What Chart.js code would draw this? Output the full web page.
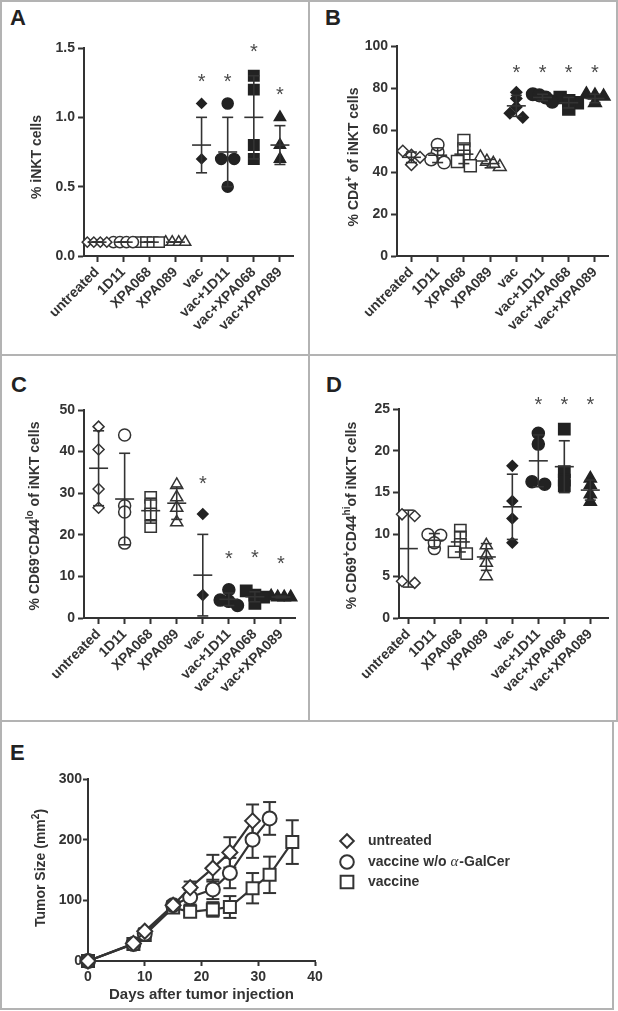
<!DOCTYPE html>
<html><head><meta charset="utf-8">
<script src="https://cdn.jsdelivr.net/npm/chart.js@4"></script>
<style>
html,body{margin:0;padding:0;background:#fff;}
body{width:618px;height:1011px;position:relative;overflow:hidden;font-family:'Liberation Sans',Arial,sans-serif;}
canvas{position:absolute;}
.ln{position:absolute;background:#b3b3b3;}
.lt{position:absolute;font:bold 22px/22px 'Liberation Sans',Arial,sans-serif;color:#222;}
</style></head><body>
<div class="ln" style="left:0;top:0;width:618px;height:2px"></div>
<div class="ln" style="left:0;top:0;width:2px;height:1010px"></div>
<div class="ln" style="left:616px;top:0;width:2px;height:721px"></div>
<div class="ln" style="left:308px;top:0;width:2px;height:721px"></div>
<div class="ln" style="left:0;top:354px;width:618px;height:2px"></div>
<div class="ln" style="left:0;top:720px;width:618px;height:2px"></div>
<div class="ln" style="left:612px;top:720px;width:2px;height:290px"></div>
<div class="ln" style="left:0;top:1008px;width:614px;height:2px"></div>
<div class="lt" style="left:10px;top:7px">A</div>
<div class="lt" style="left:325px;top:7px">B</div>
<div class="lt" style="left:11px;top:374px">C</div>
<div class="lt" style="left:326px;top:374px">D</div>
<div class="lt" style="left:10px;top:742px">E</div>
<canvas id="cA" width="309" height="355" style="left:0;top:0"></canvas>
<canvas id="cB" width="309" height="355" style="left:309px;top:0"></canvas>
<canvas id="cC" width="309" height="366" style="left:0;top:355px"></canvas>
<canvas id="cD" width="309" height="366" style="left:309px;top:355px"></canvas>
<canvas id="cE" width="612" height="287" style="left:0;top:721px"></canvas>
<script>
// ---------- DATA ----------
const categories = ['untreated','1D11','XPA068','XPA089','vac','vac+1D11','vac+XPA068','vac+XPA089'];

// Panel A: % iNKT cells
const iNKT = [[0.1,0.1,0.1,0.1],[0.1,0.1,0.1,0.1],[0.1,0.1,0.1,0.1],[0.1,0.1,0.1,0.1],
              [1.1,0.7],[1.1,0.7,0.7,0.5],[1.3,1.2,0.8,0.7],[1.0,0.8,0.7]];
const iNKTMean = [0.1,0.1,0.1,0.1,0.8,0.75,1.0,0.8];
const iNKTSd   = [0,0,0,0,0.2,0.25,0.3,0.14];
const iNKTSig  = [0,0,0,0,1,1,1,1];
const iNKTTicks = [0,0.5,1.0,1.5];
const iNKTTickLabels = ['0.0','0.5','1.0','1.5'];

// Panel B: % CD4+ of iNKT cells
const cd4 = [[48,43.5,47,50],[49.5,44.5,46,53],[55,51,47.5,45,43],[45,42.5,44,47],
             [78,75,71,68,66],[77,73.5,76.5,75.5],[73,70,75.5,74],[76.5,73,77,76]];
const cd4Mean = [47,48,48.5,44,71.5,75.5,73,75];
const cd4Sd   = [2.5,3.5,4.5,2,5,1.5,2.5,2];
const cd4Sig  = [0,0,0,0,1,1,1,1];
const cd4Ticks = [0,20,40,60,80,100];
const cd4TickLabels = ['0','20','40','60','80','100'];

// Panel C: % CD69-CD44lo of iNKT cells
const cd44lo = [[46,40.5,31,26.5],[44,27,25.5,18],[29,27,25,22],[32,29,26.5,23],
                [25,5.5],[4,3,4.3,6.8],[5.5,3.5,6.5,5],[5,5,5,5.2]];
const cd44loMean = [36,28.6,25.8,27.6,10.3,4.5,5.1,5.05];
const cd44loSd   = [9,11,3,3.9,9.8,1.5,1.2,0.2];
const cd44loSig  = [0,0,0,0,1,1,1,1];
const cd44loTicks = [0,10,20,30,40,50];
const cd44loTickLabels = ['0','10','20','30','40','50'];

// Panel D: % CD69+CD44hi of iNKT cells
const cd44hi = [[12.4,12.2,4.2,4.4],[9.9,8.3,10,9],[10.5,9.7,8.8,7.9,7.7],[8.7,7.5,6.6,5],
                [18.2,14,11.9,9],[22.1,20.8,16,16.3],[22.6,17.5,16.5,15.8],[16.7,15.9,14.8,13.9]];
const cd44hiMean = [8.3,9.3,9.1,7.3,13.3,18.8,18.1,15.3];
const cd44hiSd   = [4.6,0.8,1.2,1.6,3.9,3.1,3.1,1.2];
const cd44hiSig  = [0,0,0,0,0,1,1,1];
const cd44hiTicks = [0,5,10,15,20,25];
const cd44hiTickLabels = ['0','5','10','15','20','25'];

// Panel E: tumor size
const days = [0,8,10,15,18,22,25,29,32,36];
const seriesNames = ['untreated','vaccine w/o α-GalCer','vaccine'];
const sizeUntreated = [0,29,49,92,121,153,179,231];
const sdUntreated   = [0,4,5,6,10,22,25,27];
const sizeNoGal     = [0,28,45,92,105,118,145,200,235];
const sdNoGal       = [0,4,5,6,12,16,25,30,27];
const sizeVaccine   = [0,28,43,88,81,85,89,120,142,196];
const sdVaccine     = [0,4,4,6,6,12,18,25,30,36];
const eYTicks = [0,100,200,300];
const eXTicks = [0,10,20,30,40];

// ---------- STYLE ----------
const INK = '#333';
const FILL = '#222';
const FONT = "'Liberation Sans', Arial, sans-serif";
const TICK = 14;
const SHAPES = ['rectRot','circle','rect','triangle'];
const RADII = {rectRot:5.5, circle:6, rect:8, triangle:7};

function swarm(vals, valPx, catPx){
  const idx = vals.map((v,i)=>i).sort((a,b)=>vals[b]-vals[a]);
  const off = new Array(vals.length).fill(0);
  let cl = [idx[0]];
  const flush = () => { const k = cl.length; const sp = Math.min(13, 26/k);
    cl.forEach((id,j)=>{ off[id] = (j-(k-1)/2)*sp/catPx; }); };
  for (let n=1;n<idx.length;n++){
    const a = idx[n-1], b = idx[n];
    if ((vals[a]-vals[b])*valPx < 5) cl.push(b); else { flush(); cl = [b]; }
  }
  flush();
  return off;
}

function drawTitleSegs(ctx, segs, x, yc, size){
  ctx.save();
  ctx.translate(x, yc); ctx.rotate(-Math.PI/2);
  const main = `bold ${size}px ${FONT}`, sup = `bold ${Math.round(size*0.68)}px ${FONT}`;
  let w = 0;
  segs.forEach(s=>{ ctx.font = s[1]?sup:main; w += ctx.measureText(s[0]).width; });
  let cx = -w/2;
  ctx.fillStyle = INK; ctx.textBaseline = 'middle'; ctx.textAlign = 'left';
  segs.forEach(s=>{ ctx.font = s[1]?sup:main; ctx.fillText(s[0], cx, s[1]? -size*0.36 : 0); cx += ctx.measureText(s[0]).width; });
  ctx.restore();
}

function axisCommon(){
  return {
    grid:{display:true, drawOnChartArea:false, drawTicks:true, tickLength:6, tickWidth:2, tickColor:INK},
    border:{display:true, color:INK, width:2}
  };
}

function catPanel(id, P){
  const plotW = P.right - P.left, plotH = P.bottom - P.top;
  const catPx = plotW/(P.xMax-P.xMin), valPx = plotH/(P.yMax-P.yMin);
  const datasets = P.values.map((vals,g)=>{
    const off = swarm(vals, valPx, catPx);
    const shape = SHAPES[g%4];
    const filled = g>=4;
    return {
      data: vals.map((v,i)=>({x:g+off[i], y:v})),
      pointStyle: shape,
      pointRadius: RADII[shape]*P.k*(filled && shape==='rectRot'?0.95:1),
      pointBackgroundColor: filled?FILL:'#fff',
      pointBorderColor: filled?FILL:INK,
      pointBorderWidth: 1.5,
      showLine:false,
      clip:false
    };
  });
  const deco = {
    id:'deco'+id,
    afterDatasetsDraw(chart){
      const {ctx, scales:{x,y}} = chart;
      ctx.save();
      ctx.strokeStyle = INK; ctx.lineWidth = 1.6;
      const L=(a,b,c,d)=>{ctx.beginPath();ctx.moveTo(a,b);ctx.lineTo(c,d);ctx.stroke();};
      const tops = [];
      P.means.forEach((m,i)=>{
        const cx = x.getPixelForValue(i);
        const yt = y.getPixelForValue(m+P.sds[i]);
        const yb = y.getPixelForValue(Math.max(m-P.sds[i], P.yMin));
        const ym = y.getPixelForValue(m);
        L(cx,yt,cx,yb); L(cx-5.5,yt,cx+5.5,yt); L(cx-5.5,yb,cx+5.5,yb); L(cx-9.5,ym,cx+9.5,ym);
        const maxV = Math.max(...P.values[i]);
        tops.push(Math.min(yt, y.getPixelForValue(maxV) - RADII[SHAPES[i%4]]*P.k));
      });
      ctx.fillStyle = '#4a4a4a'; ctx.font = `20px ${FONT}`; ctx.textAlign='center'; ctx.textBaseline='alphabetic';
      const sigTops = tops.filter((t,i)=>P.sig[i]);
      const common = Math.min(...sigTops);
      P.sig.forEach((s,i)=>{
        if(!s) return;
        const t = P.align? common : tops[i];
        ctx.fillText('*', x.getPixelForValue(i), t - 21 + 11 + (P.starDy||0));
      });
      ctx.restore();
      drawTitleSegs(ctx, P.title, P.titleX, (chart.chartArea.top+chart.chartArea.bottom)/2 + (P.titleDy||0), 14);
    }
  };
  const ac = axisCommon();
  new Chart(document.getElementById(id), {
    type:'scatter',
    data:{datasets},
    plugins:[deco],
    options:{
      responsive:false, animation:false, devicePixelRatio:1,
      layout:{padding:{left:0, top:P.top, right:P.W-P.right, bottom:0}},
      plugins:{legend:{display:false}, tooltip:{enabled:false}},
      scales:{
        x:{type:'linear', min:P.xMin, max:P.xMax,
           afterBuildTicks:s=>{ s.ticks = categories.map((c,i)=>({value:i})); },
           afterFit:s=>{ s.height = P.H - P.bottom; },
           ticks:{autoSkip:false, minRotation:45, maxRotation:45, padding:2, color:INK,
                  font:{family:FONT, size:TICK, weight:'bold'}, callback:(v,i)=>categories[i]},
           grid:ac.grid, border:ac.border},
        y:{type:'linear', min:P.yMin, max:P.yMax,
           afterBuildTicks:s=>{ s.ticks = P.yTicks.map(v=>({value:v})); },
           afterFit:s=>{ s.width = P.left; },
           ticks:{padding:3, color:INK, font:{family:FONT, size:TICK, weight:'bold'}, callback:(v,i)=>P.yLabels[i]},
           grid:ac.grid, border:ac.border}
      }
    }
  });
}

catPanel('cA', {W:309,H:355,left:84,right:293,top:48,bottom:256,xMin:-0.5,xMax:7.5,yMin:0,yMax:1.5,
  yTicks:iNKTTicks, yLabels:iNKTTickLabels, values:iNKT, means:iNKTMean, sds:iNKTSd, sig:iNKTSig, k:0.92,
  align:false, title:[['% iNKT cells',0]], titleX:37, titleDy:5});
catPanel('cB', {W:309,H:355,left:88,right:300,top:46,bottom:256,xMin:-0.55,xMax:7.5,yMin:0,yMax:100,
  yTicks:cd4Ticks, yLabels:cd4TickLabels, values:cd4, means:cd4Mean, sds:cd4Sd, sig:cd4Sig, k:1.05,
  align:true, title:[['% CD4',0],['+',1],[' of iNKT cells',0]], titleX:45, titleDy:6, starDy:3});
catPanel('cC', {W:309,H:366,left:84,right:295,top:55,bottom:263,xMin:-0.56,xMax:7.54,yMin:0,yMax:50,
  yTicks:cd44loTicks, yLabels:cd44loTickLabels, values:cd44lo, means:cd44loMean, sds:cd44loSd, sig:cd44loSig, k:1,
  align:false, title:[['% CD69',0],['-',1],['CD44',0],['lo',1],[' of iNKT cells',0]], titleX:35, titleDy:2, starDy:-9});
catPanel('cD', {W:309,H:366,left:90,right:305,top:54,bottom:263,xMin:-0.36,xMax:7.7,yMin:0,yMax:25,
  yTicks:cd44hiTicks, yLabels:cd44hiTickLabels, values:cd44hi, means:cd44hiMean, sds:cd44hiSd, sig:cd44hiSig, k:1,
  align:true, title:[['% CD69',0],['+',1],['CD44',0],['hi',1],['of iNKT cells',0]], titleX:43, titleDy:2});

// ---------- Panel E ----------
(function(){
  const series = [
    {name:seriesNames[0], vals:sizeUntreated, sd:sdUntreated, shape:'rectRot', r:7.5},
    {name:seriesNames[1], vals:sizeNoGal, sd:sdNoGal, shape:'circle', r:7},
    {name:seriesNames[2], vals:sizeVaccine, sd:sdVaccine, shape:'rect', r:8.5}
  ];
  const E = {W:612, H:287, left:88, right:315, top:58, bottom:240};
  const datasets = series.map(s=>({
    data: s.vals.map((v,i)=>({x:days[i], y:v})),
    showLine:true, borderColor:INK, borderWidth:2.2, clip:false,
    pointStyle:s.shape, pointRadius:s.r, pointBackgroundColor:'#fff', pointBorderColor:INK, pointBorderWidth:2
  }));
  const deco = {
    id:'decoE',
    beforeDatasetsDraw(chart){
      const {ctx, scales:{x,y}} = chart;
      ctx.save(); ctx.strokeStyle = INK; ctx.lineWidth = 2;
      const L=(a,b,c,d)=>{ctx.beginPath();ctx.moveTo(a,b);ctx.lineTo(c,d);ctx.stroke();};
      series.forEach(s=>{
        s.vals.forEach((v,i)=>{
          const e = s.sd[i]; if(!e) return;
          const cx = x.getPixelForValue(days[i]);
          const yt = y.getPixelForValue(v+e), yb = y.getPixelForValue(v-e);
          L(cx,yt,cx,yb); L(cx-6.5,yt,cx+6.5,yt); L(cx-6.5,yb,cx+6.5,yb);
        });
      });
      ctx.restore();
    },
    afterDraw(chart){
      const ctx = chart.ctx;
      drawTitleSegs(ctx, [['Tumor Size (mm',0],['2',1],[')',0]], 41, (chart.chartArea.top+chart.chartArea.bottom)/2 - 2, 14);
      // legend
      ctx.save();
      const rows = [120,141,161];
      series.forEach((s,k)=>{
        const yy = rows[k];
        ctx.fillStyle='#fff'; ctx.strokeStyle=INK; ctx.lineWidth=2;
        Chart.helpers.drawPoint(ctx, {pointStyle:s.shape, radius:s.shape==='rect'?9:6.8, borderWidth:2}, 347, yy);
        ctx.fillStyle=INK; ctx.textBaseline='middle'; ctx.textAlign='left';
        const parts = s.name.split('α');
        let tx = 368;
        ctx.font = `bold 14px ${FONT}`;
        ctx.fillText(parts[0], tx, yy); tx += ctx.measureText(parts[0]).width;
        if(parts.length>1){
          ctx.font = `italic 15px 'Liberation Serif', serif`;
          ctx.fillText('α', tx, yy); tx += ctx.measureText('α').width + 1;
          ctx.font = `bold 14px ${FONT}`;
          ctx.fillText(parts[1], tx, yy);
        }
      });
      ctx.restore();
    }
  };
  const ac = axisCommon();
  new Chart(document.getElementById('cE'), {
    type:'scatter',
    data:{datasets},
    plugins:[deco],
    options:{
      responsive:false, animation:false, devicePixelRatio:1,
      layout:{padding:{left:0, top:E.top, right:E.W-E.right, bottom:0}},
      plugins:{legend:{display:false}, tooltip:{enabled:false}},
      scales:{
        x:{type:'linear', min:0, max:40,
           afterBuildTicks:s=>{ s.ticks = eXTicks.map(v=>({value:v})); },
           afterFit:s=>{ s.height = E.H - E.bottom; },
           ticks:{padding:3, color:INK, font:{family:FONT, size:TICK, weight:'bold'}, maxRotation:0},
           title:{display:true, text:'Days after tumor injection', color:INK, font:{family:FONT, size:15, weight:'bold'}, padding:{top:2, bottom:4}},
           grid:{...ac.grid, tickLength:5}, border:ac.border},
        y:{type:'linear', min:0, max:300,
           afterBuildTicks:s=>{ s.ticks = eYTicks.map(v=>({value:v})); },
           afterFit:s=>{ s.width = E.left; },
           ticks:{padding:1, color:INK, font:{family:FONT, size:TICK, weight:'bold'}},
           grid:{...ac.grid, tickLength:5}, border:ac.border}
      }
    }
  });
})();
</script>
</body></html>
